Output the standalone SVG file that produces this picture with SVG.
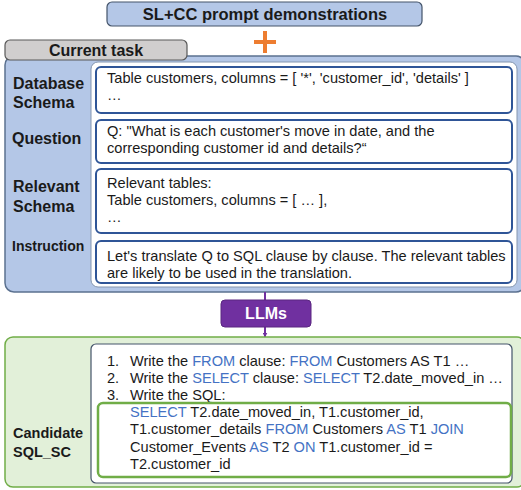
<svg xmlns="http://www.w3.org/2000/svg" width="521" height="490" viewBox="0 0 521 490">
  <defs>
    <marker id="arrow" viewBox="0 0 10 10" refX="9" refY="5" markerWidth="5" markerHeight="5" orient="auto" markerUnits="userSpaceOnUse">
      <path d="M0,0 L10,5 L0,10 z" fill="#7030A0"/>
    </marker>
    <style>
      text { font-family: "Liberation Sans", Arial, sans-serif; fill: #1a1a1a; }
      .hdr { font-weight: bold; font-size: 16px; }
      .lbl { font-weight: bold; font-size: 16px; }
      .body { font-size: 14.6px; }
      .kw { fill: #4472C4; }
      .slot { fill: #ffffff; stroke: #2F5597; stroke-width: 2; }
      .panel-blue { fill: #B4C7E7; stroke: #5B7190; stroke-width: 1.5; }
      .panel-green { fill: #E2F0D9; stroke: #70AD47; stroke-width: 1.5; }
      .sheet { fill: #ffffff; stroke: #8496B0; stroke-width: 1; }
    </style>
  </defs>

  <!-- demonstrations header -->
  <g id="demonstrations">
    <rect x="107" y="2" width="315" height="24" rx="5" fill="#B4C7E7" stroke="#44546A" stroke-width="1.2"/>
    <text x="265" y="20" text-anchor="middle" class="hdr" style="font-size:16.5px">SL+CC prompt demonstrations</text>
  </g>

  <!-- plus sign -->
  <g id="plus" stroke="#ED7D31" stroke-width="4">
    <line x1="254" y1="42" x2="276" y2="42"/>
    <line x1="265" y1="31" x2="265" y2="53"/>
  </g>

  <!-- current task panel -->
  <g id="current-task">
    <rect x="5" y="56" width="520" height="236" rx="9" class="panel-blue"/>
    <rect x="5" y="40" width="182" height="20" rx="5" fill="#D0CECE" stroke="#595959" stroke-width="1.2"/>
    <text x="96" y="56" text-anchor="middle" class="hdr">Current task</text>
    <rect x="91" y="62" width="426" height="225" rx="7" class="sheet"/>
  </g>

  <g id="database-schema">
    <text x="13" y="89" class="lbl">Database</text>
    <text x="13" y="108" class="lbl">Schema</text>
    <rect x="96" y="67" width="416" height="46" rx="5" class="slot"/>
    <text x="107" y="83" class="body">Table customers, columns = [ '*', 'customer_id', 'details' ]</text>
    <text x="107" y="100" class="body">…</text>
  </g>

  <g id="question">
    <text x="12" y="144" class="lbl">Question</text>
    <rect x="96" y="120" width="416" height="43" rx="5" class="slot"/>
    <text x="107" y="136" class="body">Q: "What is each customer's move in date, and the</text>
    <text x="107" y="153" class="body">corresponding customer id and details?“</text>
  </g>

  <g id="relevant-schema">
    <text x="13" y="192" class="lbl">Relevant</text>
    <text x="13" y="212" class="lbl">Schema</text>
    <rect x="96" y="169" width="416" height="64" rx="5" class="slot"/>
    <text x="107" y="188" class="body">Relevant tables:</text>
    <text x="107" y="205" class="body">Table customers, columns = [ … ],</text>
    <text x="107" y="222" class="body">…</text>
  </g>

  <g id="instruction">
    <text x="12" y="251" class="lbl" style="font-size:14px">Instruction</text>
    <rect x="96" y="241" width="416" height="42" rx="5" class="slot"/>
    <text x="107" y="261" class="body">Let's translate Q to SQL clause by clause. The relevant tables</text>
    <text x="107" y="278" class="body">are likely to be used in the translation.</text>
  </g>

  <!-- connectors -->
  <g id="connectors" stroke="#7030A0" stroke-width="2" fill="none">
    <line x1="265" y1="292" x2="265" y2="300"/>
    <line x1="265" y1="327" x2="265" y2="337" marker-end="url(#arrow)"/>
  </g>

  <g id="llms">
    <rect x="221" y="300" width="90" height="27" rx="4" fill="#7030A0" stroke="#5A2680" stroke-width="1"/>
    <text x="266" y="319" text-anchor="middle" class="hdr" style="fill:#ffffff">LLMs</text>
  </g>

  <!-- candidate output panel -->
  <g id="candidate">
    <rect x="5" y="337" width="520" height="150" rx="8" class="panel-green"/>
    <text x="13" y="438" class="lbl" style="font-size:14.5px">Candidate</text>
    <text x="13" y="457" class="lbl" style="font-size:14.5px">SQL_SC</text>
    <rect x="91" y="344" width="421" height="139" rx="5" fill="#ffffff" stroke="#44546A" stroke-width="1.2"/>
    <text x="107" y="366" class="body">1.</text>
    <text x="130" y="366" class="body">Write the <tspan class="kw">FROM</tspan> clause: <tspan class="kw">FROM</tspan> Customers AS T1 …</text>
    <text x="107" y="383" class="body">2.</text>
    <text x="130" y="383" class="body">Write the <tspan class="kw">SELECT</tspan> clause: <tspan class="kw">SELECT</tspan> T2.date_moved_in …</text>
    <text x="107" y="400" class="body">3.</text>
    <text x="130" y="400" class="body">Write the SQL:</text>
    <rect x="98" y="403" width="413" height="74" rx="5" fill="none" stroke="#70AD47" stroke-width="2.5"/>
    <text x="130" y="417" class="body"><tspan class="kw">SELECT</tspan> T2.date_moved_in, T1.customer_id,</text>
    <text x="130" y="434" class="body">T1.customer_details <tspan class="kw">FROM</tspan> Customers <tspan class="kw">AS</tspan> T1 <tspan class="kw">JOIN</tspan></text>
    <text x="130" y="452" class="body">Customer_Events <tspan class="kw">AS</tspan> T2 <tspan class="kw">ON</tspan> T1.customer_id =</text>
    <text x="130" y="469" class="body">T2.customer_id</text>
  </g>
</svg>
